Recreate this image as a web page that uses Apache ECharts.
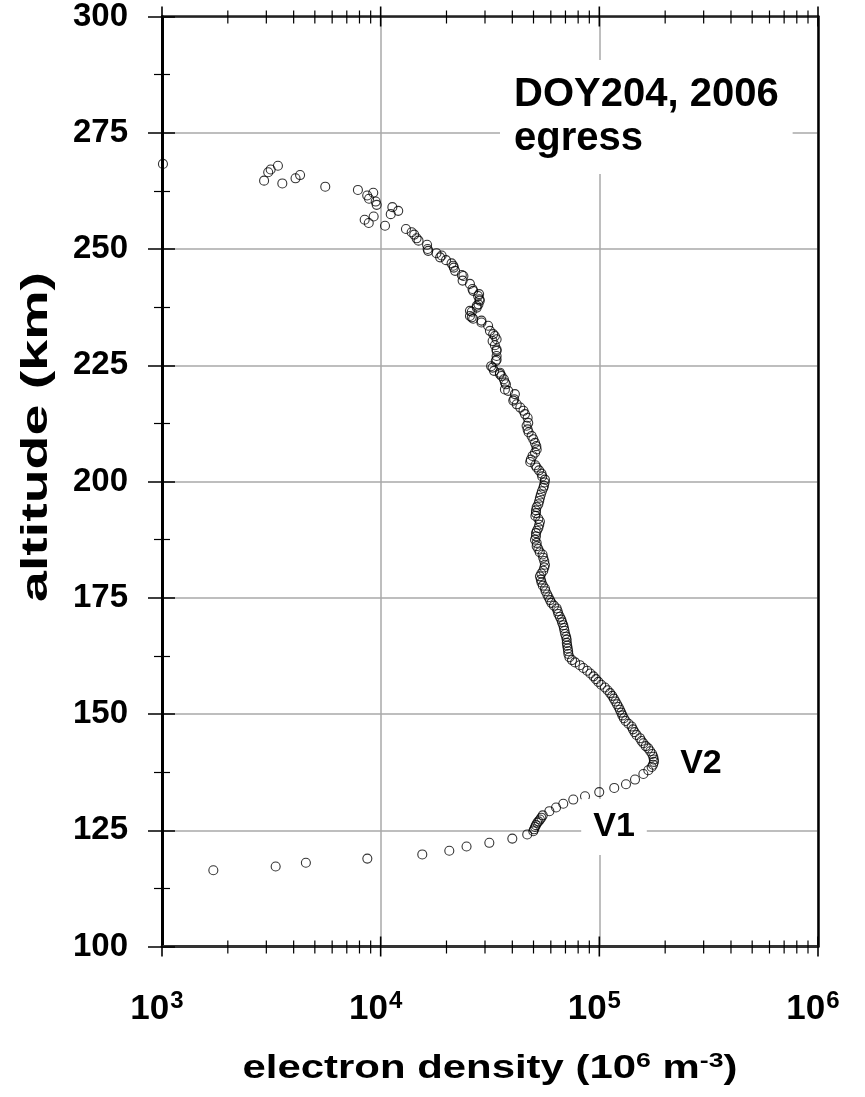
<!DOCTYPE html>
<html>
<head>
<meta charset="utf-8">
<script src="https://cdn.jsdelivr.net/npm/echarts@6/dist/echarts.min.js"></script>
<style>
  html, body { margin: 0; padding: 0; background: #fff; }
  #chart { width: 865px; height: 1097px; }
</style>
</head>
<body>
<div id="chart"></div>
<script>
// Electron density profile, DOY204 2006, egress
const altitudeKm = [
  116.4, 117.2, 118.0, 118.9, 119.8, 120.6, 121.5, 122.3, 123.2, 124.1,
  124.8, 125.2, 125.7, 126.1, 126.6, 126.9, 127.3, 127.7, 128.2, 129.1,
  129.9, 130.7, 131.6, 132.3, 133.2, 134.1, 134.9, 135.9, 137.1, 137.9,
  138.6, 139.1, 139.7, 140.2, 140.8, 141.4, 142.0, 142.6, 143.1, 143.7,
  144.2, 144.8, 145.5, 146.1, 146.7, 147.3, 147.9, 148.5, 149.1, 149.7,
  150.3, 150.9, 151.5, 152.1, 152.7, 153.3, 153.9, 154.5, 155.1, 155.7,
  156.3, 156.9, 157.5, 158.1, 158.7, 159.3, 159.9, 160.5, 161.1, 161.6,
  162.2, 162.9, 163.5, 164.1, 164.7, 165.3, 166.0, 166.6, 167.2, 167.9,
  168.5, 169.1, 169.7, 170.3, 170.9, 171.5, 172.1, 172.7, 173.3, 173.9,
  174.5, 175.1, 175.7, 176.4, 177.0, 177.6, 178.3, 178.9, 179.6, 180.2,
  180.8, 181.5, 182.1, 182.9, 183.6, 184.3, 184.8, 185.5, 186.1, 186.8,
  187.5, 188.2, 188.9, 189.4, 190.0, 190.7, 191.4, 192.0, 192.6, 193.2,
  193.8, 194.5, 195.1, 195.8, 196.5, 197.2, 197.9, 198.6, 199.1, 199.8,
  200.4, 201.1, 201.7, 202.4, 203.0, 203.5, 204.2, 204.7, 205.5, 206.2,
  206.9, 207.6, 208.3, 209.1, 209.8, 210.6, 211.2, 212.0, 212.6, 213.7,
  214.5, 215.2, 215.9, 216.6, 217.4, 217.7, 218.8, 219.5, 219.8, 220.9,
  221.3, 222.0, 222.7, 223.1, 223.4, 223.8, 224.5, 224.8, 225.9, 226.2,
  227.0, 228.1, 228.4, 229.3, 230.2, 230.6, 231.3, 231.7, 232.4, 233.5,
  234.2, 234.6, 235.0, 235.3, 235.6, 236.5, 236.7, 237.4, 237.8, 238.1,
  238.9, 239.2, 239.9, 240.3, 241.0, 241.4, 242.5, 243.2, 244.2, 244.4,
  245.3, 246.0, 246.4, 246.9, 247.6, 248.2, 248.6, 249.1, 249.6, 250.0,
  250.9, 251.8, 252.3, 253.1, 253.6, 254.3, 255.0, 255.6, 256.3, 257.0,
  257.5, 258.2, 259.0, 259.5, 260.2, 260.8, 261.5, 262.1, 262.7, 263.4,
  264.1, 264.7, 265.2, 265.9, 266.5, 267.1, 267.9, 268.3
];

// electron density in units of 10^6 m^-3
const densityE6 = [
  1717, 3310, 4550, 8690, 15500, 20600, 24700, 31400, 40000, 46800,
  49900, 50300, 50800, 51300, 52000, 52700, 53500, 54300, 55100, 59100,
  63400, 68400, 76000, 86000, 99900, 117000, 132400, 145600, 159000, 167500,
  173500, 176000, 177700, 177500, 176500, 174500, 171000, 167500, 163000, 159000,
  156000, 153400, 148000, 145000, 142500, 140500, 136000, 132000, 129500, 127500,
  126000, 124200, 122500, 120500, 118500, 116500, 114500, 112000, 109000, 106000,
  102000, 99000, 96500, 94000, 91000, 88000, 84500, 81500, 77500, 75000,
  73000, 72200, 72000, 71700, 71300, 71000, 70900, 70500, 69800, 69300,
  68900, 68400, 67600, 67000, 66000, 65000, 64500, 63800, 62000, 60400,
  59500, 58600, 57800, 56800, 56400, 55200, 54400, 54000, 53500, 54300,
  55400, 56000, 56400, 56000, 55400, 55000, 53400, 52600, 51700, 51700,
  50800, 51300, 51300, 51800, 52600, 53100, 53500, 52600, 51000, 51300,
  51300, 51700, 52600, 53100, 53500, 54000, 54600, 55400, 55800, 56200,
  56400, 54800, 54400, 53000, 51700, 51000, 48300, 48600, 49500, 50800,
  51700, 51500, 50800, 49900, 49000, 47500, 47000, 46500, 47300, 47000,
  45700, 45000, 43500, 41900, 40400, 40800, 41100, 38300, 37000, 37400,
  37000, 36600, 35700, 35100, 35100, 33000, 32500, 32000, 33600, 33900,
  33900, 33900, 33900, 33300, 32500, 33900, 33300, 32700, 31600, 31000,
  28900, 28900, 26500, 26100, 25600, 26100, 25600, 27500, 27500, 28000,
  28400, 28300, 27900, 28200, 26500, 26300, 25600, 23700, 23900, 23500,
  21900, 21600, 21500, 21100, 19900, 18700, 19000, 18000, 16500, 16400,
  16300, 14900, 14600, 14240, 13860, 13050, 10470, 8820, 8450, 9290,
  11120, 12030, 11310, 9590, 9490, 8850, 8680, 9250, 7870, 5580,
  3550, 2930, 4080, 4280, 3060, 3140, 3390, 1010
];

const altitudeTicks = [100, 125, 150, 175, 200, 225, 250, 275, 300];
const densityMajorTicks = [1e3, 1e4, 1e5, 1e6];
const densityMinorTicks = [
  2e3, 3e3, 4e3, 5e3, 6e3, 7e3, 8e3, 9e3,
  2e4, 3e4, 4e4, 5e4, 6e4, 7e4, 8e4, 9e4,
  2e5, 3e5, 4e5, 5e5, 6e5, 7e5, 8e5, 9e5
];

const annotations = [
  { text: 'V1', density: 116700, altitude: 125.7 },
  { text: 'V2', density: 291500, altitude: 139.4 }
];

const FONT = '"Liberation Sans", Arial, Helvetica, sans-serif';
const yMin = altitudeTicks[0];
const yMax = altitudeTicks[altitudeTicks.length - 1];
const xMin = densityMajorTicks[0];
const xMax = densityMajorTicks[densityMajorTicks.length - 1];

const chart = echarts.init(document.getElementById('chart'), null, { renderer: 'canvas' });

const points = altitudeKm.map((a, i) => [densityE6[i], a]);
const tickData = densityMajorTicks.map(v => [v, yMin, 1])
  .concat(densityMinorTicks.map(v => [v, yMin, 0]));

const gridLine = { show: true, lineStyle: { color: '#a8a8a8', width: 1.5 } };

const option = {
  backgroundColor: '#fff',
  animation: false,
  title: {
    text: 'DOY204, 2006\negress',
    left: 500,
    top: 60,
    padding: [13, 14, 13, 14],
    backgroundColor: '#fff',
    textStyle: {
      fontFamily: FONT, fontWeight: 'bold', fontSize: 40,
      lineHeight: 44, color: '#000'
    }
  },
  graphic: [
    {
      // axis titles, stretched along their length
      type: 'text',
      x: 490,
      y: 1069,
      scaleX: 1.27,
      silent: true,
      style: {
        text: '{t|electron density (10}{s|6}{t| m}{s|-3}{t|)}',
        align: 'center',
        verticalAlign: 'middle',
        rich: {
          t: { fontFamily: FONT, fontWeight: 'bold', fontSize: 33, fill: '#000', lineHeight: 40 },
          s: { fontFamily: FONT, fontWeight: 'bold', fontSize: 21, fill: '#000', lineHeight: 22, padding: [0, 0, 16, 0] }
        }
      }
    },
    {
      type: 'text',
      x: 37,
      y: 437,
      rotation: Math.PI / 2,
      scaleX: 1.5,
      silent: true,
      style: {
        text: 'altitude (km)',
        fontFamily: FONT, fontWeight: 'bold', fontSize: 37, fill: '#000',
        align: 'center',
        verticalAlign: 'middle'
      }
    }
  ],
  grid: { left: 162, top: 16, width: 656, height: 930.5, containLabel: false },
  xAxis: [
    {
      type: 'log', logBase: 10, min: xMin, max: xMax,
      position: 'bottom',
      axisLine: { show: true, lineStyle: { color: '#333', width: 3 } },
      axisTick: { show: false },
      splitLine: gridLine,
      axisLabel: {
        margin: 44,
        padding: [0, 10, 0, 0],
        formatter: v => '{b|10}{s|' + Math.round(Math.log10(v)) + '}',
        rich: {
          b: { fontFamily: FONT, fontWeight: 'bold', fontSize: 35, color: '#000', lineHeight: 38 },
          s: { fontFamily: FONT, fontWeight: 'bold', fontSize: 24, color: '#000', lineHeight: 24, padding: [0, 0, 16, 1] }
        }
      }
    },
    {
      type: 'log', logBase: 10, min: xMin, max: xMax,
      position: 'top',
      axisLine: { show: true, lineStyle: { color: '#222', width: 2.5 } },
      axisTick: { show: false },
      axisLabel: { show: false },
      splitLine: { show: false }
    }
  ],
  yAxis: [
    {
      type: 'value', min: yMin, max: yMax, interval: 25,
      position: 'left',
      axisLine: { show: true, onZero: false, lineStyle: { color: '#000', width: 3 } },
      axisTick: { show: true, inside: true, length: 13, lineStyle: { color: '#000', width: 1.5 } },
      minorTick: { show: true, splitNumber: 2, length: 8, lineStyle: { color: '#000', width: 1.2 } },
      splitLine: gridLine,
      axisLabel: {
        margin: 34, padding: [9, 0, 0, 0],
        fontFamily: FONT, fontWeight: 'bold', fontSize: 33, color: '#000'
      }
    },
    {
      type: 'value', min: yMin, max: yMax, interval: 25,
      position: 'left',
      axisLine: { show: false },
      axisTick: { show: true, inside: false, length: 14, lineStyle: { color: '#000', width: 1.5 } },
      minorTick: { show: true, splitNumber: 2, length: 8, lineStyle: { color: '#000', width: 1.2 } },
      axisLabel: { show: false },
      splitLine: { show: false }
    },
    {
      type: 'value', min: yMin, max: yMax, interval: 25,
      position: 'right',
      axisLine: { show: true, onZero: false, lineStyle: { color: '#000', width: 2.5 } },
      axisTick: { show: false },
      axisLabel: { show: false },
      splitLine: { show: false }
    }
  ],
  series: [
    {
      // tick marks crossing the bottom and top frame at decades and sub-decades
      type: 'custom',
      xAxisIndex: 0,
      yAxisIndex: 0,
      silent: true,
      clip: false,
      z: 5,
      encode: { x: 0, y: 1 },
      data: tickData,
      renderItem: function (params, api) {
        const v = api.value(0);
        const major = api.value(2) === 1;
        const b = api.coord([v, yMin]);
        const t = api.coord([v, yMax]);
        const up = major ? 10 : 6;
        const down = major ? 10 : 7;
        const lw = major ? 1.6 : 1.2;
        return {
          type: 'group',
          children: [
            { type: 'line', shape: { x1: b[0], y1: b[1] - up, x2: b[0], y2: b[1] + down }, style: { stroke: '#000', lineWidth: lw } },
            { type: 'line', shape: { x1: t[0], y1: t[1] - up, x2: t[0], y2: t[1] + down }, style: { stroke: '#000', lineWidth: lw } }
          ]
        };
      }
    },
    {
      type: 'scatter',
      xAxisIndex: 0,
      yAxisIndex: 0,
      data: points,
      symbol: 'circle',
      symbolSize: 9,
      itemStyle: { color: 'rgba(0,0,0,0)', borderColor: '#000', borderWidth: 1.1 },
      z: 3,
      markPoint: {
        symbol: 'rect',
        symbolSize: 1,
        itemStyle: { color: 'rgba(0,0,0,0)' },
        label: {
          show: true,
          position: 'inside',
          fontFamily: FONT, fontWeight: 'bold', fontSize: 34, color: '#000',
          lineHeight: 38,
          backgroundColor: '#fff',
          padding: [8, 12, 10, 12],
          formatter: p => p.name
        },
        data: annotations.map(a => ({ name: a.text, coord: [a.density, a.altitude] }))
      }
    }
  ]
};

chart.setOption(option);
</script>
</body>
</html>
